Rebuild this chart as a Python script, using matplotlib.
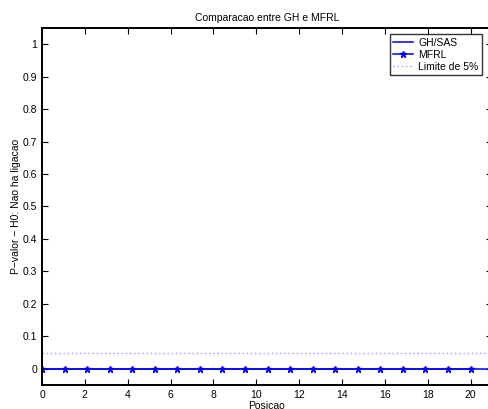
import numpy as np
import matplotlib
matplotlib.use("Agg")
import matplotlib.pyplot as plt

plt.rcParams['font.family'] = ['Liberation Sans', 'DejaVu Sans']

# positions of the MFRL points
posicao = [0.0, 1.05, 2.11, 3.16, 4.21, 5.26, 6.32, 7.37, 8.42, 9.47,
           10.53, 11.58, 12.63, 13.68, 14.74, 15.79, 16.84, 17.89, 18.95, 20.0]
pvalor_mfrl = [0.0] * 20
gh_x = [0, 21]
gh_y = [0.0, 0.0]
limite_x = [0, 21]
limite_y = [0.05, 0.05]

fig = plt.figure(figsize=(4.88, 4.09), dpi=100)
ax = fig.add_axes([0.0861, 0.0587, 0.922, 0.873])

ax.plot(gh_x, gh_y, color='blue', lw=1.1, label='GH/SAS')
ax.plot(posicao, pvalor_mfrl, color='blue', lw=1.1, marker='*', ms=5, label='MFRL')
ax.plot(limite_x, limite_y, color='#9a9aff', lw=1.0, ls=(0, (1, 2)), label='Limite de 5%')

ax.set_xlim(0, 21)
ax.set_ylim(-0.05, 1.05)
ax.set_xticks(np.arange(0, 21, 2))
ax.set_yticks([0, 0.1, 0.2, 0.3, 0.4, 0.5, 0.6, 0.7, 0.8, 0.9, 1])
ax.set_yticklabels(['0', '0.1', '0.2', '0.3', '0.4', '0.5', '0.6', '0.7', '0.8', '0.9', '1'])
ax.tick_params(direction='in', length=4, labelsize=7.5, top=True, right=True, width=0.8)
for s in ax.spines.values():
    s.set_linewidth(1.4)

ax.set_title('Comparacao entre GH e MFRL', fontsize=7.5, pad=5)
ax.set_xlabel('Posicao', fontsize=7.5, labelpad=1)
ax.set_ylabel('P\u2212valor \u2212 H0: Nao ha ligacao', fontsize=7.5, labelpad=1)

leg = ax.legend(loc='upper right', bbox_to_anchor=(0.978, 0.983), fontsize=7.5,
                frameon=True, fancybox=False, borderpad=0.35, labelspacing=0.2,
                handlelength=1.9, handletextpad=0.5, borderaxespad=0.0)
leg.get_frame().set_edgecolor('black')
leg.get_frame().set_linewidth(1.0)

fig.savefig('out.png', dpi=100)
